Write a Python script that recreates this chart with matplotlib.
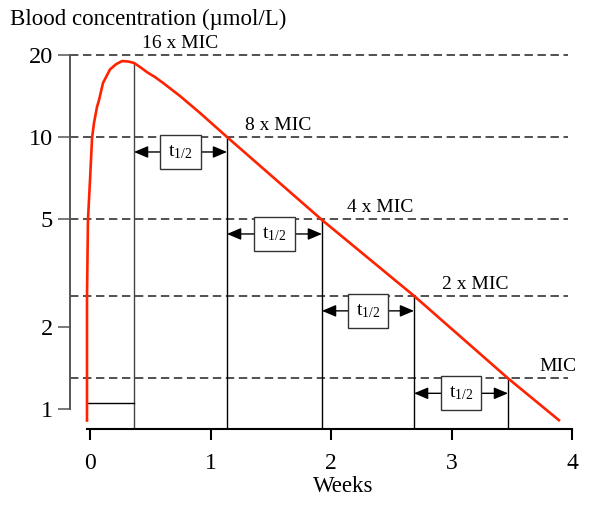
import matplotlib
matplotlib.use("Agg")
import matplotlib.pyplot as plt

plt.rcParams['font.family'] = ['Liberation Serif', 'DejaVu Serif']
plt.rcParams['mathtext.fontset'] = 'custom'
plt.rcParams['mathtext.rm'] = 'Liberation Serif'

# ---- data ----
curve_weeks = [-0.025, -0.025, -0.017, 0.0, 0.017, 0.033, 0.058, 0.075, 0.108, 0.166,
               0.216, 0.266, 0.315, 0.365, 0.415, 0.473, 0.539, 0.606, 0.747, 0.913,
               1.137, 1.925, 2.689, 3.469, 3.90]
curve_conc = [0.90, 2.59, 4.96, 6.95, 9.92, 11.25, 12.9, 13.67, 15.8, 17.7,
              18.5, 19.0, 18.94, 18.7, 18.07, 17.3, 16.6, 15.8, 14.14, 12.25,
              10.0, 4.96, 2.61, 1.30, 0.906]

mic_levels = [20, 10, 5, 2.61, 1.30]
mic_labels = ["16 x MIC", "8 x MIC", "4 x MIC", "2 x MIC", "MIC"]
mic_label_x = [0.432, 1.286, 2.133, 2.921, 3.726]

halflife_weeks = [0.365, 1.137, 1.925, 2.689, 3.469]
halflife_conc = [18.7, 10.0, 4.96, 2.61, 1.30]

base_line_conc = 1.055
base_line_x = [-0.017, 0.365]

x_ticks = [0, 1, 2, 3, 4]
y_ticks = [1, 2, 5, 10, 20]
y_ticklabels = ["1", "2", "5", "10", "20"]

# ---- figure ----
fig = plt.figure(figsize=(6.0, 5.14), dpi=100)
ax = fig.add_axes([87/600, 1-429/514, 485/600, 374/514])
ax.set_yscale('log')
ax.set_xlim(-0.025, 4.0)
ymin = 0.847
ax.set_ylim(ymin, 20)

# dashed MIC lines
for lvl in mic_levels:
    ax.axhline(lvl, xmin=-0.035, xmax=0.992, color='#222222', lw=1.1,
               dashes=(5.5, 3.0), clip_on=False, zorder=1)
for lab, lx, lvl in zip(mic_labels, mic_label_x, mic_levels):
    ax.annotate(lab, (lx, lvl), xytext=(0, 5), textcoords='offset points',
                ha='left', va='baseline', fontsize=14, annotation_clip=False)

# vertical half-life lines
for i, (hx, hy) in enumerate(zip(halflife_weeks, halflife_conc)):
    ax.vlines(hx, ymin, hy, color='#444444' if i == 0 else 'black', lw=1.0, zorder=2)

ax.plot(base_line_x, [base_line_conc]*2, color='black', lw=1.0, zorder=2)

# arrows and t1/2 boxes
for i in range(len(halflife_weeks)-1):
    x0, x1 = halflife_weeks[i], halflife_weeks[i+1]
    ya = mic_levels[i+1] * 0.881
    ax.annotate('', xy=(x1, ya), xytext=(x0, ya),
                arrowprops=dict(arrowstyle='<|-|>,head_length=0.85,head_width=0.36',
                                mutation_scale=10, color='black', lw=1.0,
                                shrinkA=0, shrinkB=0), zorder=3)
    ax.text((x0+x1)/2, ya, r'$\mathregular{t_{1/2}}$', ha='center', va='center',
            fontsize=14, zorder=4,
            bbox=dict(boxstyle='square,pad=0.42', fc='white', ec='#333333', lw=1.0))

# concentration curve
ax.plot(curve_weeks, curve_conc, color='#ff2200', lw=1.9, zorder=5,
        solid_capstyle='butt', solid_joinstyle='round', clip_on=False)

# axes styling
for s in ['top', 'right']:
    ax.spines[s].set_visible(False)
ax.spines['left'].set_position(('outward', 12.2))
ax.spines['left'].set_bounds(1, 20)
ax.spines['left'].set_color('#555555')
ax.spines['left'].set_linewidth(1.4)
ax.spines['bottom'].set_linewidth(1.5)

ax.set_yticks(y_ticks)
ax.set_yticklabels(y_ticklabels)
ax.yaxis.set_minor_locator(matplotlib.ticker.NullLocator())
ax.tick_params(axis='y', direction='out', length=8.6, width=1.1, color='#555555',
               labelsize=17.5, pad=3.5)
ax.set_xticks(x_ticks)
ax.tick_params(axis='x', direction='out', length=8, width=1.5, color='black',
               labelsize=17, pad=9)

ax.set_xlabel('Weeks', fontsize=16.5)
ax.xaxis.set_label_coords(0.528, -0.126)

fig.text(10/600, 1-25/514, 'Blood concentration (µmol/L)', fontsize=16.5,
         ha='left', va='baseline')

fig.savefig('out.png', dpi=100)
